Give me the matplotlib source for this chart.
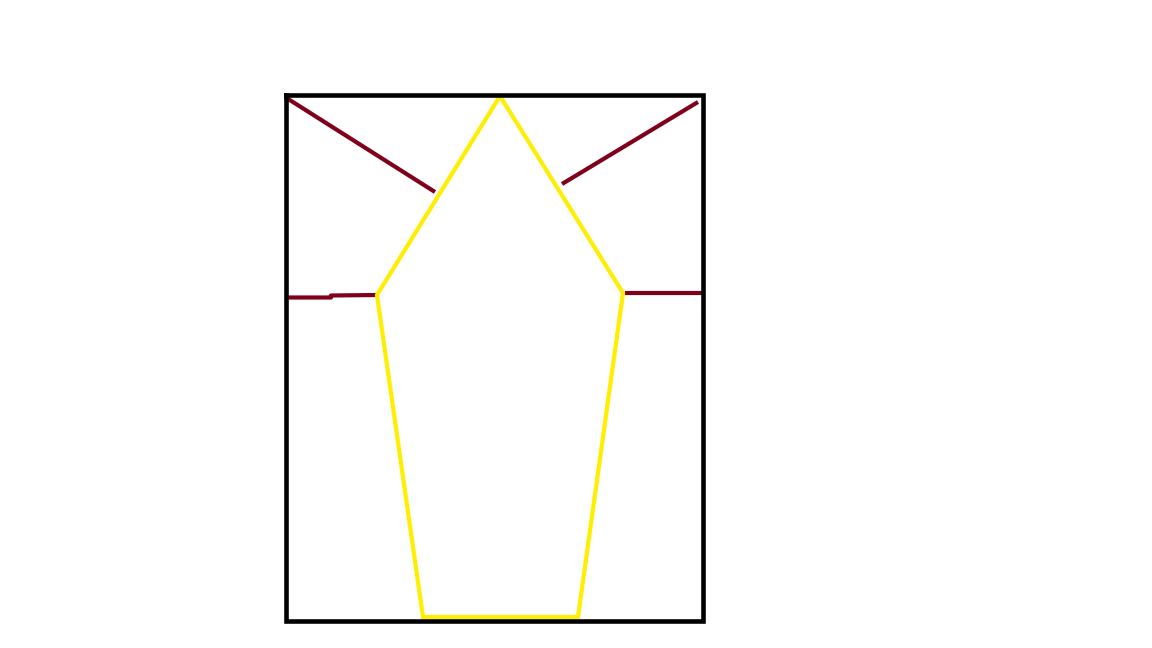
import matplotlib
matplotlib.use("Agg")
import matplotlib.pyplot as plt

# Frame rectangle corners (pixel coordinates)
frame_x = [285.5, 702.5, 702.5, 285.5, 285.5]
frame_y = [95, 95, 620.5, 620.5, 95]

# Yellow pentagon-like outline
poly_x = [500, 623, 578, 423, 377, 500]
poly_y = [96, 293, 617, 617, 295, 96]

# Dark red segments
seg1_x = [285, 435]
seg1_y = [97, 192]
seg2_x = [562, 698]
seg2_y = [184, 102]
seg3_x = [285, 331, 331, 377]
seg3_y = [297.5, 297.5, 295.5, 295]
seg4_x = [625, 702]
seg4_y = [293, 293]

fig = plt.figure(figsize=(11.52, 6.48), dpi=100)
ax = fig.add_axes([0, 0, 1, 1])
ax.set_xlim(0, 1152)
ax.set_ylim(648, 0)
ax.axis("off")

red = "#80001c"
yellow = "#ffee00"
for xs, ys in [(seg1_x, seg1_y), (seg2_x, seg2_y), (seg3_x, seg3_y), (seg4_x, seg4_y)]:
    ax.plot(xs, ys, color=red, lw=3.0, solid_capstyle="butt")
ax.plot(poly_x, poly_y, color=yellow, lw=3.0, solid_joinstyle="miter")
ax.plot(frame_x, frame_y, color="black", lw=3.3, solid_joinstyle="miter")

fig.savefig("out.png", dpi=100)
